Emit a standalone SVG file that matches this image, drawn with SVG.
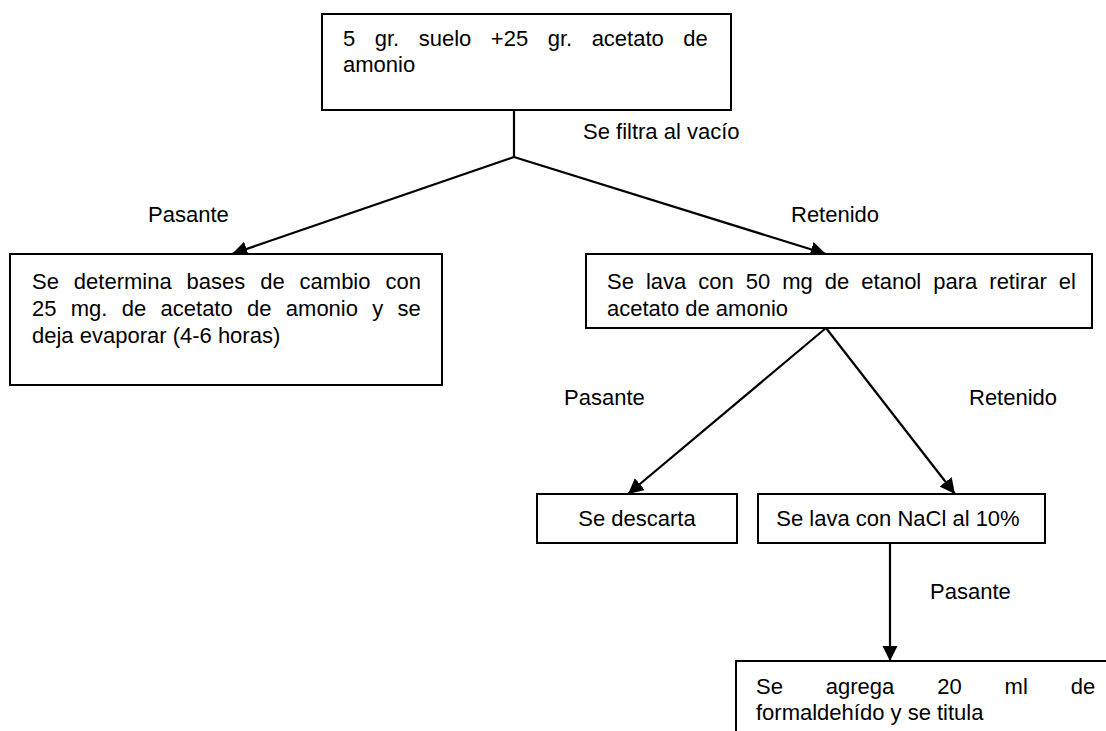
<svg xmlns="http://www.w3.org/2000/svg" width="1106" height="731" viewBox="0 0 1106 731">
  <style>
    .box { fill: #ffffff; stroke: #000000; stroke-width: 2; }
    .edge { fill: none; stroke: #000000; stroke-width: 2.2; }
    text { font-family: "Liberation Sans", Arial, sans-serif; font-size: 22px; fill: #000000; }
    .mid { text-anchor: middle; }
  </style>
  <defs>
    <marker id="arrow" viewBox="0 0 10 10" refX="10" refY="5" markerWidth="7" markerHeight="7" markerUnits="strokeWidth" orient="auto">
      <path d="M0,0 L10,5 L0,10 Z" fill="#000000"/>
    </marker>
  </defs>

  <rect width="1106" height="731" fill="#ffffff"/>

  <!-- connectors -->
  <g id="connectors">
    <line class="edge" x1="514" y1="110" x2="514" y2="157"/>
    <line class="edge" x1="514" y1="157" x2="232" y2="254" marker-end="url(#arrow)"/>
    <line class="edge" x1="514" y1="157" x2="826" y2="254" marker-end="url(#arrow)"/>
    <line class="edge" x1="826" y1="328" x2="628" y2="494" marker-end="url(#arrow)"/>
    <line class="edge" x1="826" y1="328" x2="955" y2="494" marker-end="url(#arrow)"/>
    <line class="edge" x1="890" y1="543" x2="890" y2="661" marker-end="url(#arrow)"/>
    <text x="583" y="139">Se filtra al vacío</text>
    <text x="148" y="222">Pasante</text>
    <text x="791" y="222">Retenido</text>
    <text x="564" y="405">Pasante</text>
    <text x="969" y="405">Retenido</text>
    <text x="930" y="599">Pasante</text>
  </g>

  <!-- sample -->
  <g id="muestra">
    <rect class="box" x="322" y="14" width="409" height="96"/>
    <text x="343" y="46" style="word-spacing:13.4px">5 gr. suelo +25 gr. acetato de</text>
    <text x="343" y="72">amonio</text>
  </g>

  <!-- exchange bases -->
  <g id="bases">
    <rect class="box" x="10" y="254" width="432" height="131"/>
    <text x="32" y="289" style="word-spacing:8.8px">Se determina bases de cambio con</text>
    <text x="32" y="316" style="word-spacing:8.2px">25 mg. de acetato de amonio y se</text>
    <text x="32" y="343">deja evaporar (4-6 horas)</text>
  </g>

  <!-- ethanol wash -->
  <g id="etanol">
    <rect class="box" x="586" y="254" width="506" height="74"/>
    <text x="607" y="289" style="word-spacing:5.9px">Se lava con 50 mg de etanol para retirar el</text>
    <text x="607" y="316">acetato de amonio</text>
  </g>

  <!-- discard -->
  <g id="descarta">
    <rect class="box" x="537" y="494" width="200" height="49"/>
    <text class="mid" x="637" y="526">Se descarta</text>
  </g>

  <!-- NaCl wash -->
  <g id="nacl">
    <rect class="box" x="758" y="494" width="287" height="49"/>
    <text class="mid" x="898" y="526">Se lava con NaCl al 10%</text>
  </g>

  <!-- titration -->
  <g id="titulacion">
    <rect class="box" x="736" y="661" width="400" height="100"/>
    <text x="756" y="694" style="word-spacing:36.8px">Se agrega 20 ml de</text>
    <text x="756" y="720">formaldehído y se titula</text>
  </g>
</svg>
